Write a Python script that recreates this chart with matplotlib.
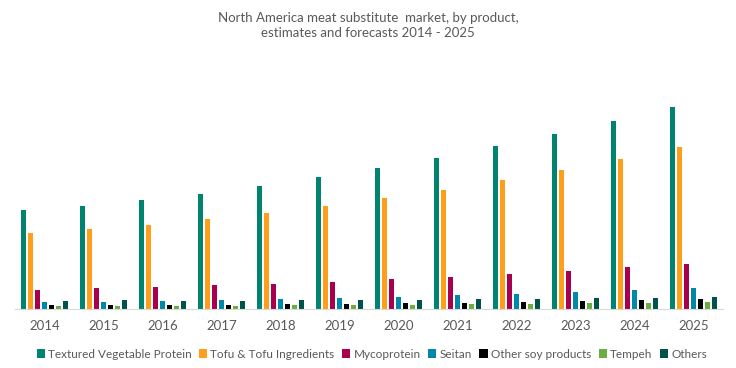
import numpy as np
import matplotlib.pyplot as plt

years = ['2014', '2015', '2016', '2017', '2018', '2019', '2020', '2021', '2022', '2023', '2024', '2025']
series = ['Textured Vegetable Protein', 'Tofu & Tofu Ingredients', 'Mycoprotein', 'Seitan',
          'Other soy products', 'Tempeh', 'Others']

tvp = [99, 103, 109, 115, 123, 132, 141, 151, 163, 175, 188, 202]
tofu = [76, 80, 84, 90, 96, 103, 111, 119, 129, 139, 150, 162]
myco = [19, 21, 22, 24, 25, 27, 30, 32, 35, 38, 42, 45]
seitan = [7.5, 7.5, 8.3, 9.3, 10.3, 11.3, 12.3, 14.3, 15.3, 17.3, 19, 21]
other_soy = [4.5, 4.5, 4.3, 4.3, 5.3, 5.3, 6.3, 6.3, 7.3, 8.3, 9, 10]
tempeh = [3.5, 3.5, 3.3, 3.3, 4.3, 4.3, 4.3, 5.3, 5.3, 6.3, 6, 7]
others = [8.5, 8.7, 8.3, 8.3, 9.3, 9.3, 9.3, 10.3, 10.3, 11.3, 11, 12]

colors = ['#00846F', '#FF9E1B', '#A8004F', '#0088A8', '#000000', '#6AAE43', '#00534A']

plt.rcParams['font.family'] = ['Lato', 'DejaVu Sans']

fig = plt.figure(figsize=(7.36, 3.68), dpi=100)
ax = fig.add_axes([0.0204, 0.1603, 0.9619, 0.6793])

x = np.arange(len(years))
step = 7 / 59
width = 5 / 59
data = [tvp, tofu, myco, seitan, other_soy, tempeh, others]
for i, (vals, c, name) in enumerate(zip(data, colors, series)):
    ax.bar(x + (i - 3) * step, vals, width, color=c, label=name)

ax.set_xlim(-0.5, len(years) - 0.5)
ax.set_ylim(0, 250)
ax.set_xticks(x)
ax.set_xticklabels(years, color='#595959', fontsize=9.5)
ax.tick_params(axis='x', length=0, pad=8)
ax.set_yticks([])
for s in ['top', 'right', 'left']:
    ax.spines[s].set_visible(False)
ax.spines['bottom'].set_color('#d9d9d9')

fig.text(0.5, 0.968, 'North America meat substitute  market, by product,\nestimates and forecasts 2014 - 2025',
         ha='center', va='top', fontsize=9.5, color='#595959', linespacing=1.35)

leg = fig.legend(loc='center', bbox_to_anchor=(0.505, 0.038), ncol=7, frameon=False,
                 fontsize=8.5, handlelength=0.7, handleheight=0.7, handletextpad=0.25,
                 columnspacing=0.65, borderaxespad=0)
for t in leg.get_texts():
    t.set_color('#595959')

plt.savefig('out.png', dpi=100)
